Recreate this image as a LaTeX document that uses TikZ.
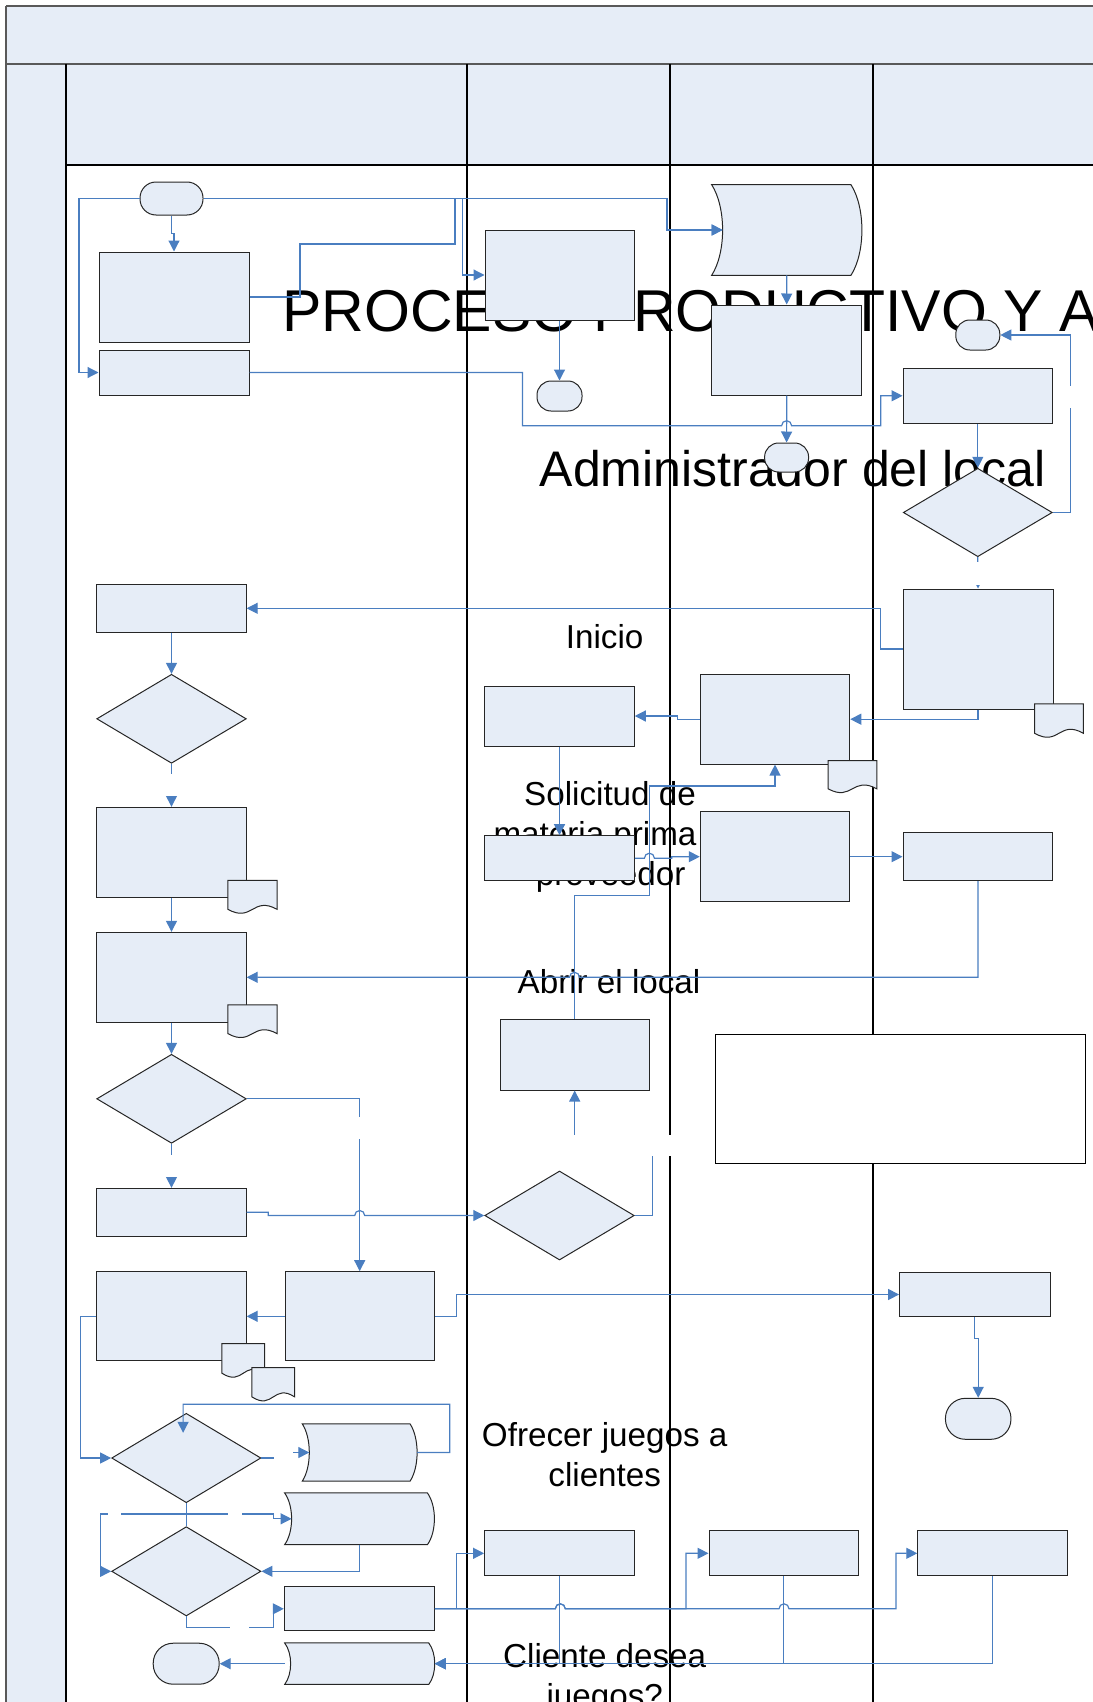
\documentclass[tikz,border=0pt]{standalone}
\usepackage{fontspec}
\setmainfont{Liberation Sans}
\usetikzlibrary{shapes.geometric,arrows.meta,calc}

\definecolor{bandfill}{HTML}{E6EDF7}
\definecolor{linkblue}{HTML}{4A7EC0}

% document sheet with wavy bottom, drawn round a holder node
\newcommand{\docsheet}[1]{%
  \filldraw[shapeline] (#1.north west) -- (#1.north east)
    -- ($(#1.south east)!0.15!(#1.north east)$)
    .. controls ($(#1.south)!0.55!(#1.north)$) and ($(#1.south)!-0.25!(#1.north)$)
    .. ($(#1.south west)!0.15!(#1.north west)$) -- cycle;}
% stored data box, both sides bowed to the right
\newcommand{\storedata}[2]{%
  \filldraw[shapeline] (#1.north west) -- ($(#1.north east)+(-#2,0)$)
    .. controls ($($(#1.east)!0.5!(#1.north east)$)+({#2/3},0)$)
       and ($($(#1.east)!0.5!(#1.south east)$)+({#2/3},0)$) .. ($(#1.south east)+(-#2,0)$)
    -- (#1.south west)
    .. controls ($($(#1.west)!0.5!(#1.south west)$)+({4*#2/3},0)$)
       and ($($(#1.west)!0.5!(#1.north west)$)+({4*#2/3},0)$) .. (#1.north west) -- cycle;}

\begin{document}
\begin{tikzpicture}[x=0.5pt,y=-0.5pt]
        \tikzset{sz/.style 2 args = {minimum width=#1*0.5pt, minimum height=#2*0.5pt}}
        \tikzset{shapeline/.style = {draw=black!85, fill=bandfill, line width=0.5pt}}
        \tikzset{proc/.style = {rectangle, shapeline, inner sep=0pt}}
        \tikzset{term/.style = {proc, rounded corners=#1}, term/.default=7pt}
        \tikzset{decision/.style = {diamond, shapeline, inner sep=0pt}}
        \tikzset{holder/.style = {rectangle, inner sep=0pt}}
        \tikzset{flow/.style = {draw=linkblue, line width=0.6pt, -{Triangle[length=5.5pt,width=5.5pt]}}}
        \tikzset{lblgap/.style 2 args = {fill=white, inner sep=0pt, minimum width=#1*0.5pt, minimum height=#2*0.5pt}}
        \tikzset{lbl/.style = {anchor=base, inner sep=0pt, font=\fontsize{16.6}{20}\selectfont}}
        \useasboundingbox (0,0) rectangle (1092,1702);
        % swimlane frame
        \fill[bandfill] (6,6) rectangle (1100,165);
        \fill[bandfill] (6,64) rectangle (66,1710);
        \draw[black!65, line width=1.2pt] (6,6) -- (1100,6);
        \draw[black!65, line width=0.6pt] (6,6) -- (6,1710);
        \draw[black!65, line width=1.2pt] (6,64) -- (1100,64);
        \draw[black, line width=1pt] (66,64) -- (66,1710);
        \foreach \lx in {467,670,873}
          \draw[black, line width=0.7pt] (\lx,64) -- (\lx,1710);
        \draw[black, line width=0.8pt] (66,165) -- (1100,165);
        % texts
        \node[anchor=base west, inner sep=0pt, font=\fontsize{29.5}{35}\selectfont] (ttitle) at (282,331.7) {PROCESO PRODUCTIVO Y A};
        \node[anchor=base west, inner sep=0pt, font=\fontsize{25}{30}\selectfont] (tadmin) at (539.4,486.7) {Administrador del local};
        \node[lbl] (tinicio) at (604.6,648.3) {Inicio};
        \node[lbl] (tsol1) at (610,805) {Solicitud de};
        \node[lbl] (tsol2) at (595,845) {materia prima};
        \node[lbl] (tsol3) at (610.7,885) {proveedor};
        \node[lbl] (tabrir) at (609,993.3) {Abrir el local};
        \node[lbl] (tofr1) at (604.7,1446.7) {Ofrecer juegos a};
        \node[lbl] (tofr2) at (604.7,1486.7) {clientes};
        \node[lbl] (tcli1) at (604.7,1667.3) {Cliente desea};
        \node[lbl] (tcli2) at (604.7,1707.3) {juegos?};
        % shapes in the first lane
        \node[term=8pt, sz={63}{33}] (t1) at (171.5,198.5) {};
        \node[proc, sz={150}{90}] (bA) at (174,297) {};
        \node[proc, sz={150}{45}] (bB) at (174,372.5) {};
        \node[proc, sz={149.3}{48}] (bH) at (171.5,608.3) {};
        \node[decision, sz={149.6}{89}] (d2) at (171.5,718.8) {};
        \node[proc, sz={149.3}{90}] (bI) at (171.5,852.3) {};
        \node[holder, sz={48.4}{33.3}] (docI) at (252.5,897.4) {};
        \docsheet{docI}
        \node[proc, sz={149.3}{90}] (bJ) at (171.5,977.3) {};
        \node[holder, sz={48.4}{33}] (docJ) at (252.5,1021.8) {};
        \docsheet{docJ}
        \node[decision, sz={149.6}{89}] (d3) at (171.5,1098.8) {};
        \node[proc, sz={149.3}{47.7}] (bM) at (171.5,1212.2) {};
        \node[proc, sz={149.3}{89.3}] (bN) at (171.5,1316.3) {};
        \node[proc, sz={149.3}{89.3}] (bL) at (359.7,1316.3) {};
        \node[holder, sz={42}{34}] (docN1) at (243.3,1361) {};
        \docsheet{docN1}
        \node[holder, sz={42}{33.7}] (docN2) at (273.3,1384.8) {};
        \docsheet{docN2}
        \node[decision, sz={149.3}{89.4}] (d5) at (186.3,1458) {};
        \node[holder, sz={114}{56.4}] (bW) at (359.7,1452.5) {};
        \storedata{bW}{7}
        \node[holder, sz={149}{51}] (bX) at (359.5,1518.8) {};
        \storedata{bX}{7}
        \node[decision, sz={149.3}{89.3}] (d6) at (186.3,1571.3) {};
        \node[proc, sz={150}{44.3}] (bY) at (359.3,1608.8) {};
        \node[holder, sz={149.3}{40.7}] (bZ) at (359.7,1663.7) {};
        \storedata{bZ}{6}
        \node[term=10pt, sz={66}{41}] (t6) at (186.2,1663.7) {};
        % shapes in the second lane
        \node[proc, sz={149}{90}] (bC) at (559.5,275) {};
        \node[term, sz={45}{30}] (t2) at (559.5,396) {};
        \node[proc, sz={149.5}{60}] (bS) at (559.5,716) {};
        \node[proc, sz={149.5}{45}] (bT) at (559.5,858.2) {};
        \node[proc, sz={149.4}{70.7}] (bP) at (574.7,1054.7) {};
        \node[decision, sz={149.5}{89}] (d4) at (559.5,1215.5) {};
        \node[proc, sz={150}{45.3}] (c1) at (559.6,1553.3) {};
        % shapes in the third lane
        \node[holder, sz={149.5}{90}] (bD) at (786.75,230) {};
        \storedata{bD}{11}
        \node[proc, sz={149.5}{90}] (bE) at (786.7,350) {};
        \node[term, sz={44}{29}] (t3) at (786.6,457.5) {};
        \node[proc, sz={149.5}{89.7}] (bR) at (775,719.2) {};
        \node[holder, sz={47.9}{32.3}] (docR) at (852.4,777.2) {};
        \docsheet{docR}
        \node[proc, sz={149.5}{90}] (bU) at (775,856.7) {};
        \node[proc, sz={149.6}{45.3}] (c2) at (783.8,1553.3) {};
        % shapes in the fourth lane
        \node[term, sz={44}{30}] (t4) at (977.8,335) {};
        \node[proc, sz={149.5}{55}] (bF) at (977.8,395.8) {};
        \node[decision, sz={149}{88.4}] (d1) at (977.8,512.5) {};
        \node[proc, sz={150}{120}] (bG) at (978,649) {};
        \node[holder, sz={48}{33.7}] (docG) at (1059,721.2) {};
        \docsheet{docG}
        \node[proc, sz={149.8}{48}] (bV) at (977.9,856.7) {};
        \node[proc, sz={150.4}{44.4}] (bO) at (974.8,1294.5) {};
        \node[term=10pt, sz={65.5}{41}] (t5) at (978.2,1418.8) {};
        \node[proc, sz={150}{45.3}] (c3) at (992.8,1553.3) {};
        \node[rectangle, draw=black, fill=white, line width=0.7pt, sz={370}{129}] (note) at (900.5,1098.8) {};
        % links at the top
        \draw[flow] (t1.south) -- ++(0,18) -| (bA.north);
        \draw[flow] (t1.west) -- (79,198.5) |- (bB.west);
        \draw[flow] (t1.east) -- (462.7,198.5) |- (bC.west);
        \draw[flow] (t1.east) -- (667,198.5) |- ([xshift=5.5pt]bD.west);
        \draw[flow] (bA.east) -- (300,297) -- (300,244) -- (455,244) -- (455,198.5) -- (667,198.5) |- ([xshift=5.5pt]bD.west);
        \draw[flow] (bC.south) -- (t2.north);
        \draw[flow] (bD.south) -- (bE.north);
        \draw[flow] (bE.south) -- (t3.north);
        \draw[flow] (bB.east) -- (522.5,372.5) -- (522.5,425.7) -- (781.6,425.7) arc[start angle=180,end angle=0,radius=2.5pt] -- (880.8,425.7) |- (bF.west);
        \draw[flow] (bF.south) -- (d1.north);
        \draw[flow] (d1.east) -- (1070.4,512.5) -- node[lblgap={12}{22}, pos=0.648] (g1) {} (1070.4,335) -- (t4.east);
        \draw[flow] (d1.south) -- node[lblgap={12}{23}, pos=0.52] (g2) {} (bG.north);
        % links in the middle
        \draw[flow] (bG.west) -- (880.8,649) |- (bH.east);
        \draw[flow] (bH.south) -- (d2.north);
        \draw[flow] (d2.south) -- node[lblgap={12}{22}, pos=0.49] (g3) {} (bI.north);
        \draw[flow] (bI.south) -- (bJ.north);
        \draw[flow] (bJ.south) -- (d3.north);
        \draw[flow] (bG.south) |- (bR.east);
        \draw[flow] (bR.west) -- (677.3,719.2) |- (bS.east);
        \draw[flow] (bS.south) -- (bT.north);
        \draw[flow] (bT.east) -- (644.4,858.2) arc[start angle=180,end angle=0,radius=2.5pt] -- (671.7,858.2) |- (bU.west);
        \draw[flow] (bU.east) -- (bV.west);
        \draw[flow] (bV.south) -- (977.9,977.3) -- (579.5,977.3) arc[start angle=0,end angle=180,radius=2.5pt] -- (bJ.east);
        \draw[flow] (bP.north) -- (574.7,895.7) -- (649.4,895.7) -- (649.4,786) -| (bR.south);
        \draw[flow] (d3.east) -- (359.7,1098.8) -- node[lblgap={12}{22}, pos=0.169] (g4) {} (bL.north);
        \draw[flow] (d3.south) -- node[lblgap={12}{22}, pos=0.504] (g5) {} (bM.north);
        \draw[flow] (bM.east) -- (268.3,1212.2) -- (268.3,1215.5) -- (354.7,1215.5) arc[start angle=180,end angle=0,radius=2.5pt] -- (d4.west);
        \draw[flow] (d4.east) -- (652.3,1215.5) -- (652.3,1145.5) -- node[lblgap={122}{21}] (g6) {} (574.7,1145.5) -- (bP.south);
        \draw[flow] (bL.west) -- (bN.east);
        \draw[flow] (bL.east) -- (456.7,1316.3) |- (bO.west);
        \draw[flow] (bO.south) -- ++(0,21.3) -| (t5.north);
        % links at the bottom
        \draw[flow] (bN.west) -- (80.7,1316.3) |- (d5.west);
        \draw[flow] (d5.east) -- (283,1458) -- node[lblgap={19}{14}] (g7) {} (283,1452.5) -- ([xshift=3.5pt]bW.west);
        \draw[flow] (bW.east) -- (449.7,1452.5) -- (449.7,1404.3) -- (183.1,1404.3) -- ([xshift=-1.6pt,yshift=-10pt]d5.north);
        \draw[draw=linkblue, line width=0.6pt] (d5.south) -- (d6.north);
        \draw[flow] (d5.south) -- (186.3,1514) -- node[lblgap={12.4}{10}, pos=0.839] (g8) {} (100.7,1514) |- (d6.west);
        \draw[flow] (d5.south) -- (186.3,1514) -- node[lblgap={13.4}{10}, pos=0.56] (g9) {} (273.3,1514) |- ([xshift=3.5pt]bX.west);
        \draw[flow] (bX.south) |- (d6.east);
        \draw[flow] (d6.south) -- (186.3,1627.7) -- node[lblgap={19.3}{10}, pos=0.614] (g10) {} (273.3,1627.7) |- (bY.west);
        \draw[flow] (bY.east) -- (456.7,1608.8) |- (c1.west);
        \draw[flow] (bY.east) -- (555.3,1608.8) arc[start angle=180,end angle=0,radius=2.5pt] -- (686,1608.8) |- (c2.west);
        \draw[flow] (bY.east) -- (555.3,1608.8) arc[start angle=180,end angle=0,radius=2.5pt] -- (779,1608.8) arc[start angle=180,end angle=0,radius=2.5pt] -- (896,1608.8) |- (c3.west);
        \draw[flow] (c1.south) |- (bZ.east);
        \draw[flow] (c2.south) |- (bZ.east);
        \draw[flow] (c3.south) |- (bZ.east);
        \draw[flow] (bZ.west) -- (t6.east);
\end{tikzpicture}
\end{document}
